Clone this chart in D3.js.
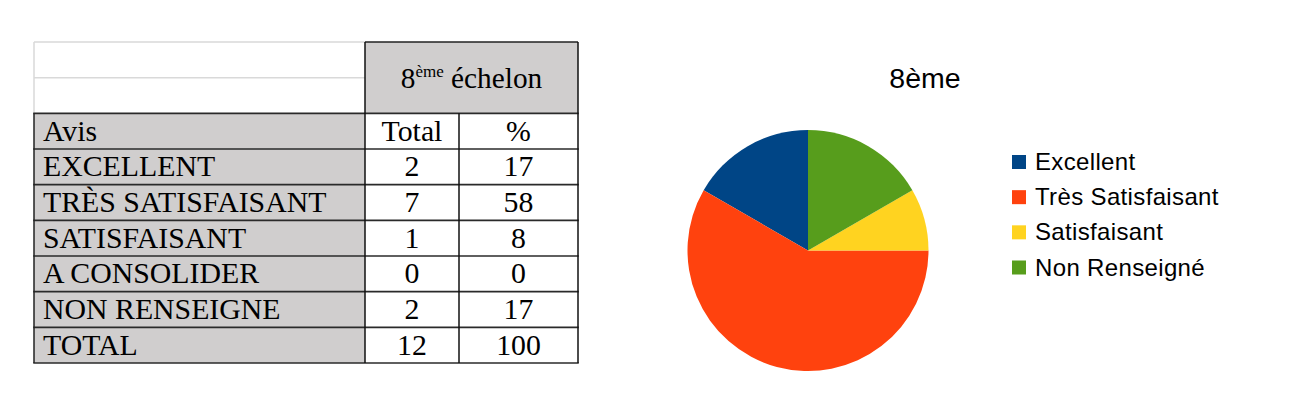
<!DOCTYPE html>
<html>
<head>
<meta charset="utf-8">
<script src="https://cdn.jsdelivr.net/npm/d3@7"></script>
<style>
  html, body { margin: 0; padding: 0; background: #fff; }
  svg { display: block; }
</style>
</head>
<body>
<svg id="chart" width="1302" height="397"></svg>
<script>
// ---- Data ----
const tableLabels = ["EXCELLENT", "TRÈS SATISFAISANT", "SATISFAISANT", "A CONSOLIDER", "NON RENSEIGNE", "TOTAL"];
const tableTotals = [2, 7, 1, 0, 2, 12];
const tablePercents = [17, 58, 8, 0, 17, 100];
const headerTitle = "échelon";
const headerNum = "8";
const headerSup = "ème";
const colHeaders = ["Avis", "Total", "%"];

const pieCategories = ["Excellent", "Très Satisfaisant", "Satisfaisant", "Non Renseigné"];
const pieValues = [2, 7, 1, 2];
const pieColors = ["#004586", "#ff420e", "#ffd320", "#579d1c"];
const chartTitle = "8ème";

const svg = d3.select("#chart");

// ---- Table ----
const rowY = d3.scaleLinear().domain([0, 9]).range([42, 363]);
const colX = [34, 365, 459, 578];
const grey = "#d0cece";
const serif = "'Liberation Serif', 'Times New Roman', serif";
const tbl = svg.append("g");

// backgrounds
tbl.append("rect").attr("x", colX[1]).attr("y", rowY(0)).attr("width", colX[3] - colX[1]).attr("height", rowY(2) - rowY(0)).attr("fill", grey);
tbl.append("rect").attr("x", colX[0]).attr("y", rowY(2)).attr("width", colX[1] - colX[0]).attr("height", rowY(9) - rowY(2)).attr("fill", grey);

// light lines in empty top-left area
[0, 1].forEach(i => {
  tbl.append("line").attr("x1", colX[0]).attr("x2", colX[1]).attr("y1", rowY(i)).attr("y2", rowY(i))
    .attr("stroke", "#d9d9d9").attr("stroke-width", 1.5);
});
tbl.append("line").attr("x1", colX[0]).attr("x2", colX[0]).attr("y1", rowY(0)).attr("y2", rowY(2))
  .attr("stroke", "#d9d9d9").attr("stroke-width", 1.5);

// dark horizontal lines
tbl.append("line").attr("x1", colX[1]).attr("x2", colX[3]).attr("y1", rowY(0)).attr("y2", rowY(0)).attr("stroke", "#222").attr("stroke-width", 1.5);
for (let i = 2; i <= 9; i++) {
  tbl.append("line").attr("x1", colX[0] - 0.75).attr("x2", colX[3] + 0.75).attr("y1", rowY(i)).attr("y2", rowY(i))
    .attr("stroke", "#2a2a2a").attr("stroke-width", 1.6);
}
// dark vertical lines
tbl.append("line").attr("x1", colX[0]).attr("x2", colX[0]).attr("y1", rowY(2)).attr("y2", rowY(9)).attr("stroke", "#222").attr("stroke-width", 1.5);
tbl.append("line").attr("x1", colX[1]).attr("x2", colX[1]).attr("y1", rowY(0)).attr("y2", rowY(9)).attr("stroke", "#111").attr("stroke-width", 1.5);
tbl.append("line").attr("x1", colX[2]).attr("x2", colX[2]).attr("y1", rowY(2)).attr("y2", rowY(9)).attr("stroke", "#111").attr("stroke-width", 1.5);
tbl.append("line").attr("x1", colX[3]).attr("x2", colX[3]).attr("y1", rowY(0)).attr("y2", rowY(9)).attr("stroke", "#111").attr("stroke-width", 1.5);

const fs = 29.8;
// header merged cell
const hdr = tbl.append("text").attr("x", (colX[1] + colX[3]) / 2).attr("y", 88)
  .attr("text-anchor", "middle").attr("font-family", serif).attr("font-size", 29.3).attr("fill", "#000");
hdr.append("tspan").text(headerNum);
hdr.append("tspan").attr("font-size", 17).attr("dy", -11).text(headerSup);
hdr.append("tspan").attr("dy", 11).text("\u00a0" + headerTitle);

// column headers
tbl.append("text").attr("x", colX[0] + 9).attr("y", rowY(3) - 8).attr("font-family", serif).attr("font-size", fs).text(colHeaders[0]);
tbl.append("text").attr("x", (colX[1] + colX[2]) / 2).attr("y", rowY(3) - 8).attr("text-anchor", "middle").attr("font-family", serif).attr("font-size", fs).text(colHeaders[1]);
tbl.append("text").attr("x", (colX[2] + colX[3]) / 2).attr("y", rowY(3) - 8).attr("text-anchor", "middle").attr("font-family", serif).attr("font-size", fs).text(colHeaders[2]);

tableLabels.forEach((lab, i) => {
  const yb = rowY(i + 4) - 8.5;
  tbl.append("text").attr("x", colX[0] + 9).attr("y", yb).attr("font-family", serif).attr("font-size", fs).text(lab);
  tbl.append("text").attr("x", (colX[1] + colX[2]) / 2).attr("y", yb).attr("text-anchor", "middle").attr("font-family", serif).attr("font-size", fs).text(tableTotals[i]);
  tbl.append("text").attr("x", (colX[2] + colX[3]) / 2).attr("y", yb).attr("text-anchor", "middle").attr("font-family", serif).attr("font-size", fs).text(tablePercents[i]);
});

// ---- Pie ----
const sans = "'Liberation Sans', Arial, sans-serif";
svg.append("text").attr("x", 925).attr("y", 88).attr("text-anchor", "middle")
  .attr("font-family", sans).attr("font-size", 28.5).attr("fill", "#000").text(chartTitle);

const cx = 808, cy = 250.5, r = 120.5;
const pie = d3.pie().sort(null).startAngle(0).endAngle(-2 * Math.PI);
const arc = d3.arc().innerRadius(0).outerRadius(r);
const color = d3.scaleOrdinal().domain(pieCategories).range(pieColors);
svg.append("g").attr("transform", `translate(${cx},${cy})`)
  .selectAll("path").data(pie(pieValues)).join("path")
  .attr("d", arc).attr("fill", (d, i) => color(pieCategories[i]));

// ---- Legend ----
const legY = d3.scalePoint().domain(pieCategories).range([162, 267.5]);
const leg = svg.append("g");
pieCategories.forEach(c => {
  leg.append("rect").attr("x", 1012).attr("y", legY(c) - 7).attr("width", 14).attr("height", 14).attr("fill", color(c));
  leg.append("text").attr("x", 1035).attr("y", legY(c) + 8).attr("font-family", sans).attr("font-size", 24)
    .attr("letter-spacing", 0.35).attr("fill", "#000").text(c);
});
</script>
</body>
</html>
